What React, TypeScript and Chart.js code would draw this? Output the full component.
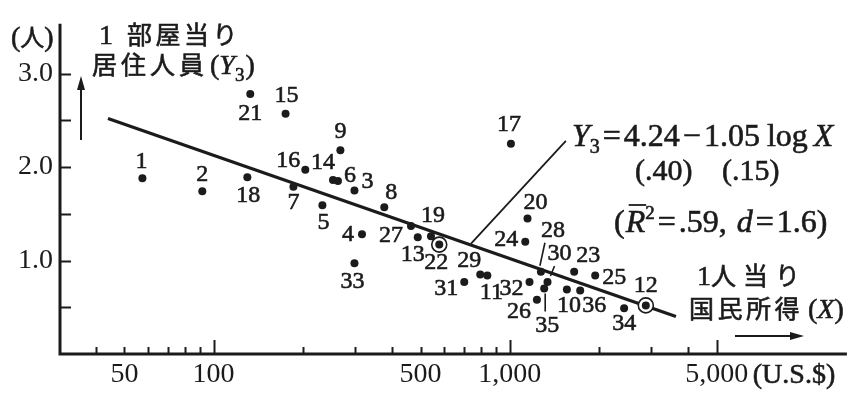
import React, { useEffect, useRef } from "react";
import { Chart, registerables } from "chart.js";

Chart.register(...registerables);

// ---- data ----
const countryIds = [1, 2, 3, 4, 5, 6, 7, 8, 9, 10, 11, 12, 13, 14, 15, 16, 17, 18, 19, 20, 21, 22, 23, 24, 25, 26, 27, 28, 29, 30, 31, 32, 33, 34, 35, 36];
const incomeUSD = [57.5, 91.6, 299, 317, 233, 263, 186, 377, 268, 1559, 840, 2880, 489, 253, 175, 204, 1009, 130, 542, 1148, 133, 578, 1650, 1128, 1943, 1235, 464, 1274, 795, 1341, 702, 1166, 299, 2433, 1307, 1729];
const personsPerRoom = [1.88, 1.74, 1.75, 1.28, 1.59, 1.85, 1.79, 1.57, 2.18, 0.69, 0.84, 0.52, 1.25, 1.86, 2.57, 1.97, 2.25, 1.89, 1.26, 1.45, 2.78, 1.17, 0.88, 1.2, 0.84, 0.58, 1.37, 0.88, 0.85, 0.77, 0.77, 0.77, 0.97, 0.49, 0.7, 0.68];
const circledIds = [22, 12];
const fitIncome = [44, 3640];
const fitPersons = [2.52, 0.4];
const pointerIncome = [740, 1547];
const pointerPersons = [1.18, 2.28];
const xTickValues = [40, 50, 60, 70, 80, 90, 100, 200, 300, 400, 500, 600, 700, 800, 900, 1000, 2000, 3000, 4000, 5000];
const xMajorTicks = [100, 1000, 5000];
const xTickLabels: Record<number, string> = { 50: "50", 100: "100", 500: "500", 1000: "1,000", 5000: "5,000" };
const yTickValues = [0.5, 1, 1.5, 2, 2.5, 3];
const yTickLabels: Record<string, string> = { "1": "1.0", "2": "2.0", "3": "3.0" };

// ---- layout of the point labels (pixel offsets from each dot) ----
const labelOffsets: Record<number, [number, number]> = {
  1: [-1, -17], 2: [0, -17], 3: [13, -9], 4: [-14, 0], 5: [1, 17], 6: [12, -5], 7: [0, 16], 8: [7, -15],
  9: [0, -18], 10: [2, 16], 11: [4, 17], 12: [0, -20], 13: [-5, 18], 14: [-10, -17], 15: [1, -18],
  16: [-17, -9], 17: [-2, -19], 18: [1, 18], 19: [2, -21], 20: [8, -16], 21: [0, 20], 22: [-3, 18],
  23: [14, -16], 24: [-19, -2], 25: [19, 2], 26: [-18, 12], 27: [-20, 10], 28: [12, -41], 29: [-11, -14],
  30: [12, -28], 31: [-18, 7], 32: [-18, 7], 33: [-2, 18], 34: [0, 16], 35: [3, 37], 36: [14, 15],
};
const leaders: Record<number, [number, number, number, number]> = {
  28: [4, -29, -1, -6],
  30: [7, -16, 3, -6],
  35: [1, 5, 1, 23],
};

const INK = "#1b1b1b";
const SERIF = '"Liberation Serif", "DejaVu Serif", serif';
const CJK = '"Noto Sans CJK JP", "Noto Sans CJK SC", sans-serif';
const serif = (size: number, italic = false) => `${italic ? "italic " : ""}${size}px ${SERIF}`;
const cjk = (size: number) => `${size}px ${CJK}`;

type Seg = { t: string; font: string; dy?: number; over?: boolean; gap?: number };

function inkText(ctx: CanvasRenderingContext2D, t: string, x: number, y: number) {
  ctx.fillText(t, x, y);
  ctx.save();
  ctx.lineWidth = 0.6;
  ctx.strokeText(t, x, y);
  ctx.restore();
}

function drawRich(ctx: CanvasRenderingContext2D, x: number, y: number, segs: Seg[]) {
  let cx = x;
  for (const s of segs) {
    ctx.font = s.font;
    inkText(ctx, s.t, cx, y + (s.dy || 0));
    const w = ctx.measureText(s.t).width;
    if (s.over) {
      ctx.save();
      ctx.lineWidth = 1.8;
      ctx.beginPath();
      ctx.moveTo(cx + 3, y - 27);
      ctx.lineTo(cx + w + 1, y - 27);
      ctx.stroke();
      ctx.restore();
    }
    cx += w + (s.gap || 0);
  }
  return cx;
}

function drawChars(ctx: CanvasRenderingContext2D, text: string, x: number, y: number, pitch: number, font: string) {
  ctx.font = font;
  Array.from(text).forEach((ch, i) => inkText(ctx, ch, x + i * pitch, y));
}

const decorPlugin = {
  id: "decor",
  afterDatasetsDraw(chart: any) {
    const ctx: CanvasRenderingContext2D = chart.ctx;
    const { left, right, top, bottom } = chart.chartArea;
    const xs = chart.scales.x;
    const ys = chart.scales.y;
    ctx.save();
    ctx.strokeStyle = INK;
    ctx.fillStyle = INK;
    ctx.lineCap = "butt";

    // axes
    ctx.lineWidth = 3;
    ctx.beginPath();
    ctx.moveTo(left, top);
    ctx.lineTo(left, bottom);
    ctx.lineTo(right, bottom);
    ctx.stroke();

    // inward tick marks
    ctx.lineWidth = 2;
    xTickValues.forEach((v) => {
      const px = Math.round(xs.getPixelForValue(v)) + 0.5;
      const len = xMajorTicks.includes(v) ? 14 : 7;
      ctx.beginPath();
      ctx.moveTo(px, bottom);
      ctx.lineTo(px, bottom - len);
      ctx.stroke();
    });
    yTickValues.forEach((v) => {
      const py = Math.round(ys.getPixelForValue(v)) + 0.5;
      ctx.beginPath();
      ctx.moveTo(left, py);
      ctx.lineTo(left + 11, py);
      ctx.stroke();
    });

    // point labels + leaders
    const meta = chart.getDatasetMeta(0);
    ctx.textAlign = "center";
    ctx.textBaseline = "middle";
    countryIds.forEach((id, i) => {
      const el = meta.data[i];
      const [dx, dy] = labelOffsets[id] || [0, -16];
      ctx.font = serif(24);
      inkText(ctx, String(id), el.x + dx, el.y + dy);
      const ld = leaders[id];
      if (ld) {
        ctx.lineWidth = 1.6;
        ctx.beginPath();
        ctx.moveTo(el.x + ld[0], el.y + ld[1]);
        ctx.lineTo(el.x + ld[2], el.y + ld[3]);
        ctx.stroke();
      }
    });

    // x unit
    ctx.textAlign = "left";
    ctx.textBaseline = "middle";
    ctx.font = serif(28);
    inkText(ctx, "(U.S.$)", xs.getPixelForValue(5000) + 36, bottom + 22);

    // annotations
    ctx.textBaseline = "alphabetic";
    drawRich(ctx, 11, 46, [
      { t: "(", font: serif(28) },
      { t: "人", font: cjk(24) },
      { t: ")", font: serif(28) },
    ]);
    ctx.font = serif(28);
    inkText(ctx, "1", 99, 44);
    drawChars(ctx, "部屋当り", 127, 44, 28.5, cjk(25));
    drawChars(ctx, "居住人員", 92, 74, 29, cjk(25));
    drawRich(ctx, 210, 74, [
      { t: "(", font: serif(28) },
      { t: "Y", font: serif(28, true) },
      { t: "3", font: serif(19), dy: 7, gap: 1 },
      { t: ")", font: serif(28) },
    ]);

    ctx.font = serif(28);
    inkText(ctx, "1", 697, 285);
    drawChars(ctx, "人当り", 711, 285, 32, cjk(25));
    drawChars(ctx, "国民所得", 689, 318, 28.5, cjk(25));
    drawRich(ctx, 808, 318, [
      { t: "(", font: serif(28) },
      { t: "X", font: serif(28, true) },
      { t: ")", font: serif(28) },
    ]);

    // equation
    drawRich(ctx, 572, 146, [
      { t: "Y", font: serif(32, true) },
      { t: "3", font: serif(20), dy: 7, gap: 3 },
      { t: "=", font: serif(32), gap: 3 },
      { t: "4.24", font: serif(32), gap: 3 },
      { t: "−", font: serif(32), gap: 3 },
      { t: "1.05", font: serif(32), gap: 7 },
      { t: "log", font: serif(32), gap: 6 },
      { t: "X", font: serif(32, true) },
    ]);
    drawRich(ctx, 635, 180, [{ t: "(.40)", font: serif(30) }]);
    drawRich(ctx, 722, 180, [{ t: "(.15)", font: serif(30) }]);
    drawRich(ctx, 614, 232, [
      { t: "(", font: serif(32), gap: 1 },
      { t: "R", font: serif(32, true), over: true },
      { t: "2", font: serif(19), dy: -13, gap: 3 },
      { t: "=", font: serif(32), gap: 3 },
      { t: ".59,", font: serif(32), gap: 10 },
      { t: "d", font: serif(32, true), gap: 3 },
      { t: "=", font: serif(32), gap: 3 },
      { t: "1.6)", font: serif(32) },
    ]);

    // arrows
    ctx.lineWidth = 2;
    ctx.beginPath();
    ctx.moveTo(81, 140);
    ctx.lineTo(81, 86);
    ctx.stroke();
    ctx.beginPath();
    ctx.moveTo(81, 76);
    ctx.lineTo(77, 90);
    ctx.lineTo(85, 90);
    ctx.closePath();
    ctx.fill();

    ctx.beginPath();
    ctx.moveTo(735, 336);
    ctx.lineTo(794, 336);
    ctx.stroke();
    ctx.beginPath();
    ctx.moveTo(804, 336);
    ctx.lineTo(790, 332);
    ctx.lineTo(790, 340);
    ctx.closePath();
    ctx.fill();

    ctx.restore();
  },
};

export default function App() {
  const canvasRef = useRef<HTMLCanvasElement | null>(null);

  useEffect(() => {
    document.body.style.margin = "0";
    document.body.style.background = "#ffffff";
    const canvas = canvasRef.current;
    if (!canvas) return;

    const points = countryIds.map((_, i) => ({ x: incomeUSD[i], y: personsPerRoom[i] }));
    const circled = circledIds.map((id) => {
      const i = countryIds.indexOf(id);
      return { x: incomeUSD[i], y: personsPerRoom[i] };
    });
    const fit = fitIncome.map((x, i) => ({ x, y: fitPersons[i] }));
    const pointer = pointerIncome.map((x, i) => ({ x, y: pointerPersons[i] }));

    const chart = new Chart(canvas, {
      type: "scatter",
      data: {
        datasets: [
          { data: points, pointRadius: 4, pointBackgroundColor: INK, pointBorderWidth: 0, showLine: false },
          { data: circled, pointRadius: 7.5, pointBackgroundColor: "#ffffff", pointBorderColor: INK, pointBorderWidth: 1.6, showLine: false },
          { data: fit, showLine: true, borderColor: INK, borderWidth: 3.2, pointRadius: 0 },
          { data: pointer, showLine: true, borderColor: INK, borderWidth: 1.8, pointRadius: 0 },
        ],
      } as any,
      options: {
        responsive: false,
        animation: false,
        devicePixelRatio: 1,
        layout: { padding: { top: 22, right: 8, left: 0, bottom: 0 } },
        plugins: { legend: { display: false }, tooltip: { enabled: false } },
        scales: {
          x: {
            type: "logarithmic",
            min: 30.3,
            max: 13750,
            afterBuildTicks: (s: any) => {
              s.ticks = xTickValues.map((v) => ({ value: v }));
            },
            afterFit: (s: any) => {
              s.height = 42;
            },
            grid: { display: false, drawTicks: false },
            border: { display: false },
            ticks: {
              autoSkip: false,
              maxRotation: 0,
              minRotation: 0,
              padding: 4,
              color: INK,
              font: { family: SERIF, size: 28 },
              callback: (v: any) => xTickLabels[Math.round(Number(v))] ?? "",
            },
          },
          y: {
            type: "linear",
            min: 0,
            max: 3.532,
            afterBuildTicks: (s: any) => {
              s.ticks = yTickValues.map((v) => ({ value: v }));
            },
            afterFit: (s: any) => {
              s.width = 60;
            },
            grid: { display: false, drawTicks: false },
            border: { display: false },
            ticks: {
              autoSkip: false,
              padding: 7,
              color: INK,
              font: { family: SERIF, size: 28 },
              callback: (v: any) => yTickLabels[String(v)] ?? "",
            },
          },
        },
      } as any,
      plugins: [decorPlugin],
    });

    return () => chart.destroy();
  }, []);

  return (
    <div style={{ width: 856, height: 396 }}>
      <canvas ref={canvasRef} width={856} height={396} style={{ display: "block" }} />
    </div>
  );
}
